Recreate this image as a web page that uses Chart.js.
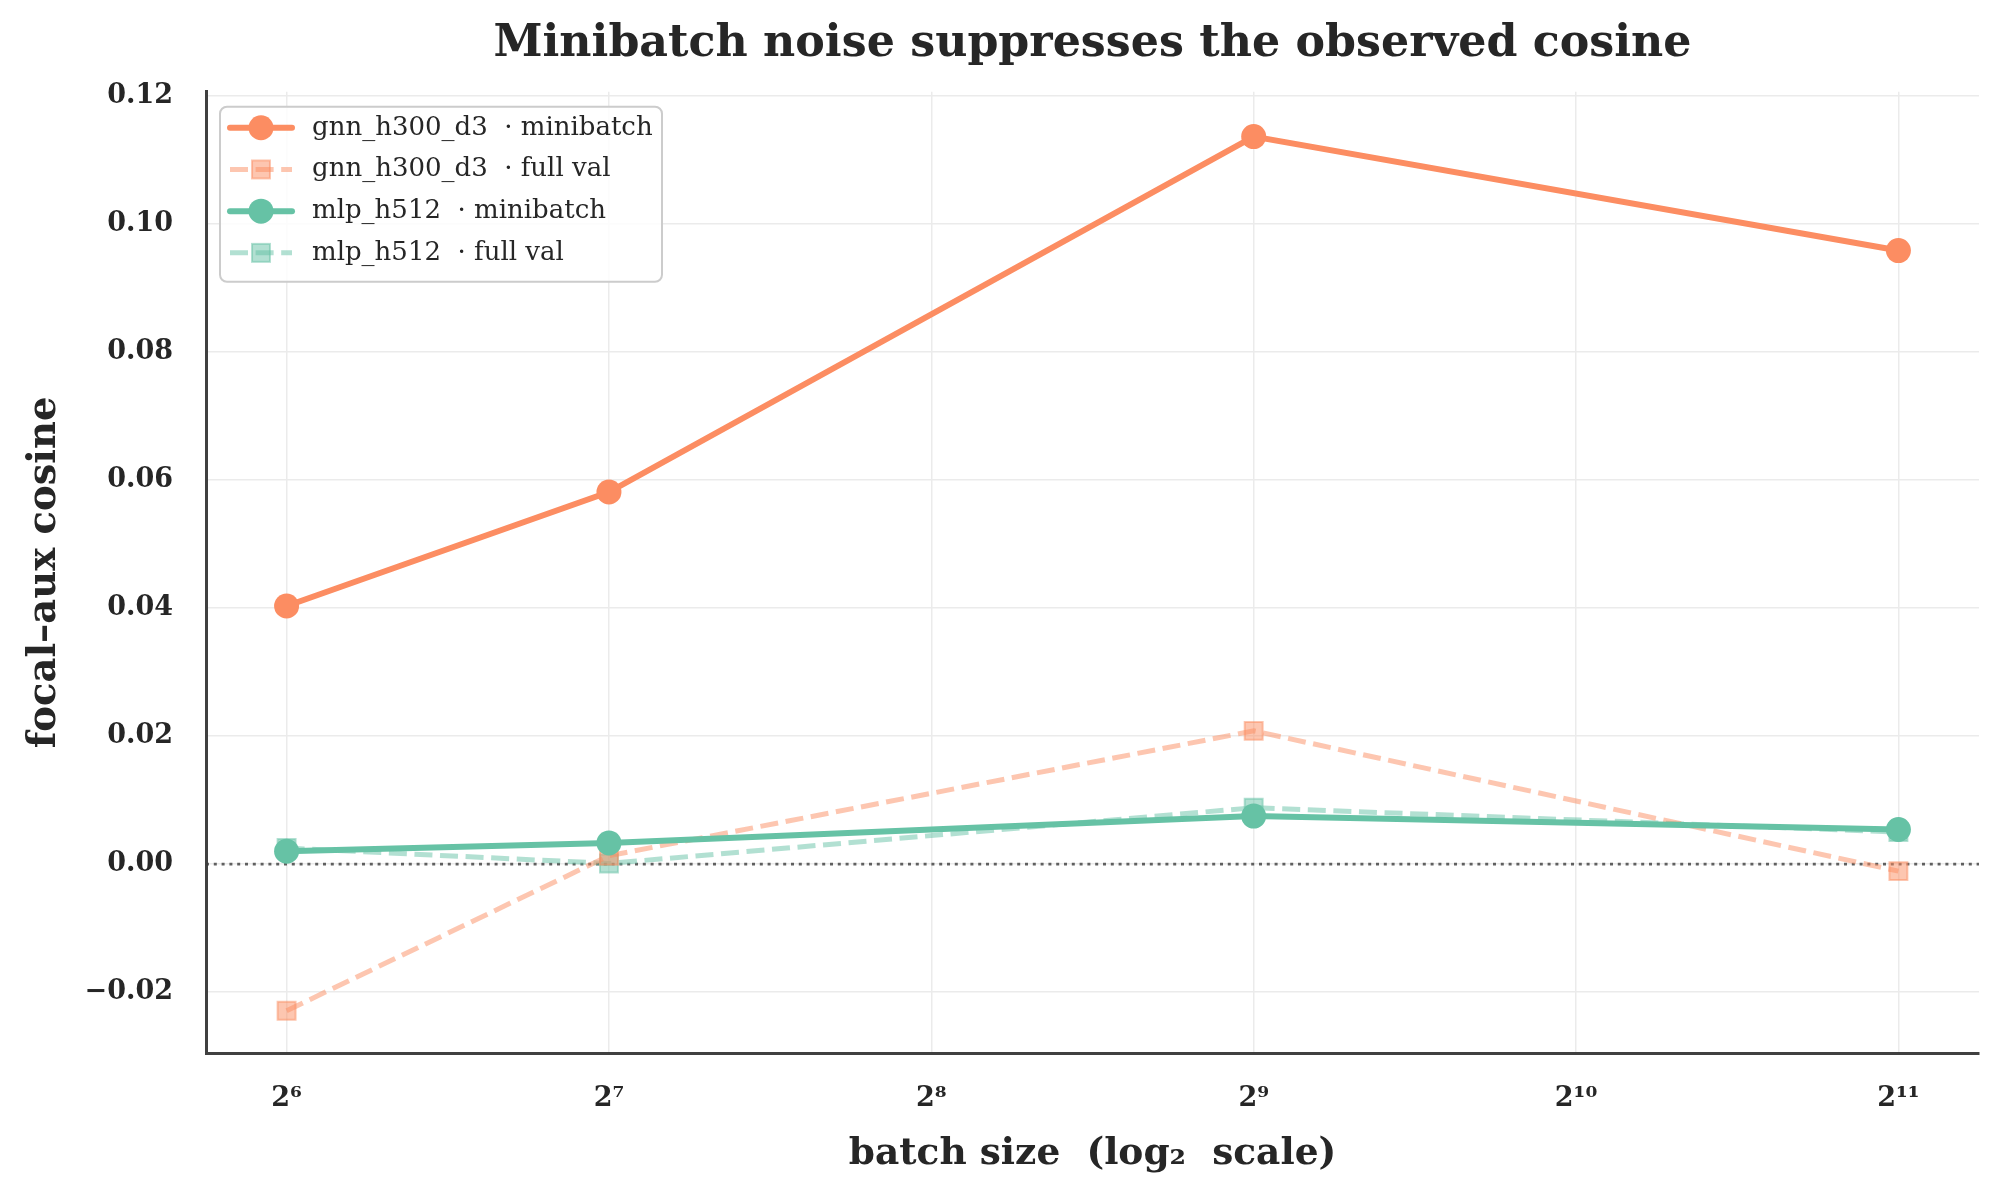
<!DOCTYPE html>
<html>
<head>
<meta charset="utf-8">
<script src="https://cdn.jsdelivr.net/npm/chart.js@4.4.0/dist/chart.umd.min.js"></script>
<style>
  html, body { margin: 0; padding: 0; background: #fff; }
  #wrap { width: 2002px; height: 1203px; }
</style>
</head>
<body>
<div id="wrap"><canvas id="chart" width="2002" height="1203"></canvas></div>
<script>
// dados
const batchSizes = [64, 128, 512, 2048];
const gnnMinibatch = [0.0403, 0.0581, 0.1136, 0.0958];
const gnnFullVal = [-0.0229, 0.0013, 0.0208, -0.0011];
const mlpMinibatch = [0.0020, 0.0033, 0.0075, 0.0054];
const mlpFullVal = [0.0025, 0.0001, 0.0088, 0.0050];

const seriesLabels = [
    'gnn_h300_d3  · minibatch',
    'gnn_h300_d3  · full val',
    'mlp_h512  · minibatch',
    'mlp_h512  · full val'
];
const xTickExps = [6, 7, 8, 9, 10, 11];
const yTickValues = [-0.02, 0, 0.02, 0.04, 0.06, 0.08, 0.10, 0.12];

const ORANGE = '#fc8d62';
const GREEN = '#66c2a5';
const ORANGE_A = 'rgba(252,141,98,0.5)';
const GREEN_A = 'rgba(102,194,165,0.5)';
const TEXT = '#262626';
const SERIF = "'DejaVu Serif', 'Liberation Serif', serif";

const toPoints = (vals) => vals.map((v, i) => ({ x: Math.log2(batchSizes[i]), y: v }));

const SUP = { '0': '⁰', '1': '¹', '2': '²', '3': '³', '4': '⁴', '5': '⁵', '6': '⁶', '7': '⁷', '8': '⁸', '9': '⁹' };
const supText = (n) => String(n).split('').map((c) => SUP[c]).join('');

const miniStyle = (color) => ({
    borderColor: color, backgroundColor: color, borderWidth: 6,
    pointStyle: 'circle', pointRadius: 12.5, pointBorderWidth: 0,
    pointBackgroundColor: color, order: 1
});
const fullStyle = (color) => ({
    borderColor: color, backgroundColor: color, borderWidth: 5, borderDash: [18, 7.6],
    pointStyle: 'rect', pointRadius: 12.7, pointBorderWidth: 2,
    pointBackgroundColor: color, pointBorderColor: color, order: 2
});

// linha pontilhada em y = 0
const zeroLine = {
    id: 'zeroLine',
    beforeDatasetsDraw(chart) {
        const { ctx, chartArea: a, scales: { y } } = chart;
        const py = y.getPixelForValue(0);
        ctx.save();
        ctx.strokeStyle = 'rgba(60,60,60,0.8)';
        ctx.lineWidth = 2.8;
        ctx.setLineDash([3, 4.8]);
        ctx.beginPath();
        ctx.moveTo(a.left, py);
        ctx.lineTo(a.right, py);
        ctx.stroke();
        ctx.restore();
    }
};

// legenda no canto superior esquerdo, com linha + marcador
const boxLegend = {
    id: 'boxLegend',
    afterDatasetsDraw(chart) {
        const { ctx, chartArea: a } = chart;
        const x0 = a.left + 14, y0 = a.top + 15, w = 442, h = 175;
        ctx.save();
        ctx.beginPath();
        ctx.roundRect(x0, y0, w, h, 7);
        ctx.fillStyle = 'rgba(255,255,255,0.85)';
        ctx.fill();
        ctx.strokeStyle = '#cccccc';
        ctx.lineWidth = 2;
        ctx.stroke();

        chart.data.datasets.forEach((ds, i) => {
            const cy = y0 + 21 + i * 41.7;
            const lx = x0 + 10, rx = x0 + 72, mx = x0 + 41;
            ctx.strokeStyle = ds.borderColor;
            ctx.lineWidth = ds.borderWidth;
            ctx.setLineDash(ds.borderDash || []);
            ctx.lineCap = ds.borderDash ? 'butt' : 'round';
            ctx.beginPath();
            ctx.moveTo(lx, cy);
            ctx.lineTo(rx, cy);
            ctx.stroke();
            ctx.setLineDash([]);
            ctx.fillStyle = ds.pointBackgroundColor;
            if (ds.pointStyle === 'circle') {
                ctx.beginPath();
                ctx.arc(mx, cy, ds.pointRadius, 0, Math.PI * 2);
                ctx.fill();
            } else {
                const s = ds.pointRadius * Math.SQRT1_2;
                ctx.fillRect(mx - s, cy - s, 2 * s, 2 * s);
                ctx.strokeStyle = ds.pointBorderColor;
                ctx.lineWidth = ds.pointBorderWidth;
                ctx.strokeRect(mx - s, cy - s, 2 * s, 2 * s);
            }
            ctx.fillStyle = TEXT;
            ctx.font = `26px ${SERIF}`;
            ctx.textBaseline = 'middle';
            ctx.textAlign = 'left';
            ctx.fillText(ds.label, x0 + 92, cy);
        });
        ctx.restore();
    }
};

const tickFont = { family: SERIF, size: 27, weight: 'bold' };

new Chart(document.getElementById('chart').getContext('2d'), {
    type: 'line',
    data: {
        datasets: [
            { label: seriesLabels[0], data: toPoints(gnnMinibatch), ...miniStyle(ORANGE) },
            { label: seriesLabels[1], data: toPoints(gnnFullVal), ...fullStyle(ORANGE_A) },
            { label: seriesLabels[2], data: toPoints(mlpMinibatch), ...miniStyle(GREEN) },
            { label: seriesLabels[3], data: toPoints(mlpFullVal), ...fullStyle(GREEN_A) }
        ]
    },
    options: {
        responsive: false,
        animation: false,
        devicePixelRatio: 1,
        layout: { padding: { left: 0, right: 23, top: 0, bottom: 0 } },
        scales: {
            x: {
                type: 'linear',
                min: 5.75,
                max: 11.25,
                afterBuildTicks: (s) => { s.ticks = xTickExps.map((v) => ({ value: v })); },
                afterFit: (s) => { s.height = 150; },
                grid: { color: '#ebebeb', lineWidth: 1.5, drawTicks: false },
                border: { display: true, color: '#404040', width: 3 },
                ticks: { padding: 30, color: TEXT, font: tickFont, maxRotation: 0, callback: (v) => '2' + supText(v) },
                title: { display: true, text: 'batch size  (log₂  scale)', color: TEXT, font: { family: SERIF, size: 37.5, weight: 'bold' }, padding: { top: 26, bottom: 26 } }
            },
            y: {
                min: -0.0295,
                max: 0.1206,
                afterBuildTicks: (s) => { s.ticks = yTickValues.map((v) => ({ value: v })); },
                afterFit: (s) => { s.width = 206; },
                grid: { color: '#ebebeb', lineWidth: 1.5, drawTicks: false },
                border: { display: true, color: '#404040', width: 3 },
                ticks: { padding: 33, color: TEXT, font: tickFont, callback: (v) => v.toFixed(2).replace('-', '−') },
                title: { display: true, text: 'focal–aux cosine', color: TEXT, font: { family: SERIF, size: 38.5, weight: 'bold' }, padding: { top: 22, bottom: 22 } }
            }
        },
        plugins: {
            legend: { display: false },
            tooltip: { enabled: false },
            title: {
                display: true,
                text: 'Minibatch noise suppresses the observed cosine',
                color: TEXT,
                fullSize: false,
                font: { family: SERIF, size: 44.3, weight: 'bold' },
                padding: { top: 18, bottom: 20.6 }
            }
        }
    },
    plugins: [zeroLine, boxLegend]
});
</script>
</body>
</html>
